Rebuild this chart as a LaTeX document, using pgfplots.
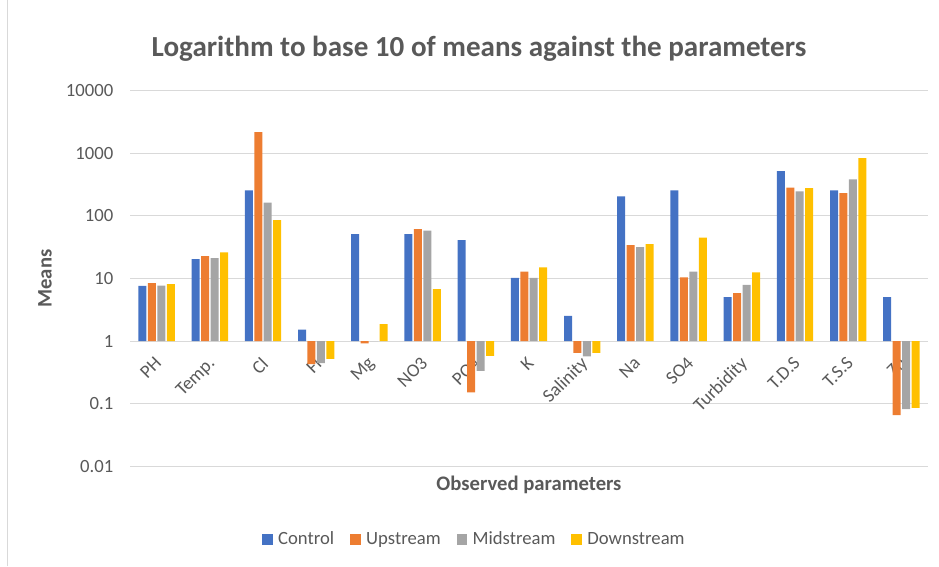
\documentclass[border=0pt]{standalone}
\usepackage{pgfplots}
\pgfplotsset{compat=1.18}
\usepackage{pgfplotstable}
\usepackage{fontspec}
\setmainfont{Carlito}
\definecolor{cctrl}{HTML}{4472C4}
\definecolor{cup}{HTML}{ED7D31}
\definecolor{cmid}{HTML}{A5A5A5}
\definecolor{cdown}{HTML}{FFC000}
\definecolor{txt}{HTML}{595959}
\definecolor{grd}{HTML}{D9D9D9}
\pgfplotstableread{
x Control Upstream Midstream Downstream
0 7.64 8.43 7.73 8.12
1 20.4 22.7 21.1 26.0
2 254 2163 163 85.3
3 1.53 0.43 0.446 0.52
4 51 0.92 1 1.87
5 51 61.3 58.3 6.76
6 40.9 0.152 0.336 0.583
7 10.2 12.9 10.2 15.0
8 2.54 0.65 0.57 0.65
9 203.5 34 31.6 35.3
10 254 10.4 12.9 45.1
11 5.04 5.83 7.93 12.5
12 516 283 245 276
13 254 230 380 832
14 5.04 0.066 0.082 0.086
}\datatable
\begin{document}
\begin{tikzpicture}[x=0.75pt,y=0.75pt]
\draw[grd, line width=0.75pt] (7,0) -- (7,566);
\node[text=txt, font=\fontsize{21.8}{26}\selectfont\bfseries] at (479,518) {Logarithm to base 10 of means against the parameters};
\node[text=txt, rotate=90, font=\fontsize{15.5}{18}\selectfont\bfseries] at (45,288) {Means};
\node[text=txt, font=\fontsize{15.5}{18}\selectfont\bfseries] at (529,82) {Observed parameters};
\begin{axis}[
  set layers,
  at={(97.5pt,75pt)}, anchor=south west, scale only axis,
  width=598.5pt, height=282pt,
  ymode=log, ymin=0.01, ymax=10000,
  xmin=-0.5, xmax=14.5,
  ybar=1.1pt, bar width=6pt,
  axis line style={draw=none},
  major tick length=0pt, minor tick length=0pt,
  minor y tick num=0, tick style={draw=none},
  ymajorgrids, grid style={grd, line width=0.75pt},
  ytick={0.01,0.1,1,10,100,1000,10000},
  yticklabels={0.01,0.1,1,10,100,1000,10000},
  yticklabel style={font=\fontsize{14}{16}\selectfont, text=txt, anchor=east, xshift=-9pt},
  xtick={0,...,14},
  xticklabels={PH,Temp.,Cl,Fl,Mg,NO3,PO4,K,Salinity,Na,SO4,Turbidity,T.D.S,T.S.S,Zn},
  xticklabel style={font=\fontsize{14}{16}\selectfont, text=txt, yshift=88pt, xshift=-2pt, rotate=45, anchor=north east},
  legend style={at={(0.432,-0.194)}, anchor=center, draw=none, fill=none,
    legend columns=4, font=\fontsize{14}{16}\selectfont, text=txt,
    /tikz/every even column/.append style={column sep=10pt}},
  legend image code/.code={\fill[#1] (0pt,-3.9pt) rectangle (7.8pt,3.9pt); \path (10pt,0pt);},
]
\addplot[fill=cctrl, draw=none] table[x=x, y=Control] {\datatable};
\addplot[fill=cup, draw=none] table[x=x, y=Upstream] {\datatable};
\addplot[fill=cmid, draw=none] table[x=x, y=Midstream] {\datatable};
\addplot[fill=cdown, draw=none] table[x=x, y=Downstream] {\datatable};
\legend{Control,Upstream,Midstream,Downstream}
\end{axis}
\path[use as bounding box] (0,0) rectangle (939,566);
\end{tikzpicture}
\end{document}
